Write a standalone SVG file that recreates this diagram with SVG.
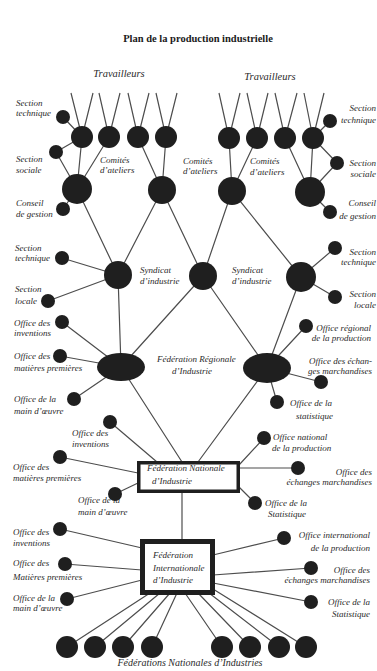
<svg xmlns="http://www.w3.org/2000/svg" width="377" height="671" viewBox="0 0 377 671">
<style>
.n{fill:#1f1f1f}
.e{stroke:#4d4d4d;stroke-width:1.2;fill:none}
.l{font-family:"Liberation Serif",serif;font-style:italic;font-size:9px;fill:#2a2a2a}
.r{text-anchor:end}
.m{text-anchor:middle}
.box{fill:#fff;stroke:#1f1f1f}
</style>
<rect width="377" height="671" fill="#fff"/>
<text x="198" y="42" text-anchor="middle" style="font-family:'Liberation Serif',serif;font-weight:bold;font-size:10.5px;fill:#1a1a1a">Plan de la production industrielle</text>
<text class="l m" x="119" y="77" style="font-size:10.5px">Travailleurs</text>
<text class="l m" x="270" y="80" style="font-size:10.5px">Travailleurs</text>
<g id="connectors" class="e">
<path d="M71 93L82 137M93 93L82 137M99 93L109 137M120 93L109 137M128 93L138 137M149 93L138 137M156 93L166 137M177 93L166 137"/>
<path d="M219 93L229 138M240 93L229 138M247 93L257 138M268 93L257 138M275 93L285 138M297 93L285 138M304 93L313 138M324 93L313 138"/>
<path d="M82 137L77 189M109 137L77 189M138 137L162 190M166 137L162 190M229 138L232 191M257 138L232 191M285 138L310 192M313 138L310 192"/>
<path d="M63 117L82 137M56 152L82 137M56 152L77 189M63 209L77 189"/>
<path d="M330 121L313 138M337 163L313 138M337 163L310 192M330 212L310 192"/>
<path d="M77 189L118 275M162 190L118 275M162 190L203 276M232 191L203 276M232 191L301 277"/>
<path d="M62 258L118 275M48 301L118 275M335 248L301 277M335 297L301 277"/>
<path d="M118 275L121 367M203 276L121 367M203 276L267 368M301 277L267 368"/>
<path d="M62 322L121 367M60 356L121 367M74 399L121 367M306 326L267 368M321 382L267 368M277 402L267 368"/>
<path d="M121 367L182 462M267 368L198 462"/>
<path d="M110 422L157 462M60 457L138 473M115 494L138 483M264 438L239 465M298 468L239 468M255 503L239 487"/>
<path d="M182 492L182 541"/>
<path d="M60 529L142 548M65 564L142 570M67 599L142 580M284 538L213 555M311 568L213 575M311 602L213 583"/>
<path d="M67 647L150 593M95 647L160 593M123 647L170 593M152 647L177 593M222 647L185 593M250 647L198 593M279 647L209 593M306 647L213 589"/>
</g>
<g id="workers-left"><circle class="n" cx="82" cy="137" r="11"/><circle class="n" cx="109" cy="137" r="11"/><circle class="n" cx="138" cy="137" r="11"/><circle class="n" cx="166" cy="137" r="11"/></g>
<g id="workers-right"><circle class="n" cx="229" cy="138" r="11"/><circle class="n" cx="257" cy="138" r="11"/><circle class="n" cx="285" cy="138" r="11"/><circle class="n" cx="313" cy="138" r="11"/></g>
<g id="comite-1"><circle class="n" cx="77" cy="189" r="15"/></g>
<g id="comite-2"><circle class="n" cx="162" cy="190" r="14"/></g>
<g id="comite-3"><circle class="n" cx="232" cy="191" r="14"/></g>
<g id="comite-4"><circle class="n" cx="310" cy="192" r="15"/></g>
<g id="comites-labels">
<text class="l" x="100" y="163">Comités</text><text class="l" x="100" y="173">d’ateliers</text>
<text class="l" x="183" y="164">Comités</text><text class="l" x="183" y="174">d’ateliers</text>
<text class="l" x="250" y="164">Comités</text><text class="l" x="250" y="175">d’ateliers</text>
</g>
<g id="sections-top-left">
<circle class="n" cx="63" cy="117" r="7"/><text class="l" x="16" y="106">Section</text><text class="l" x="16" y="116">technique</text>
<circle class="n" cx="56" cy="152" r="7"/><text class="l" x="16" y="162">Section</text><text class="l" x="16" y="173">sociale</text>
<circle class="n" cx="63" cy="209" r="7"/><text class="l" x="16" y="206">Conseil</text><text class="l" x="16" y="217">de gestion</text>
</g>
<g id="sections-top-right">
<circle class="n" cx="330" cy="121" r="7"/><text class="l r" x="376" y="111">Section</text><text class="l r" x="376" y="123">technique</text>
<circle class="n" cx="337" cy="163" r="7"/><text class="l r" x="376" y="166">Section</text><text class="l r" x="376" y="177">sociale</text>
<circle class="n" cx="330" cy="212" r="7"/><text class="l r" x="376" y="206">Conseil</text><text class="l r" x="376" y="219">de gestion</text>
</g>
<g id="syndicat-1"><circle class="n" cx="118" cy="275" r="14"/><text class="l" x="140" y="273">Syndicat</text><text class="l" x="140" y="284">d’industrie</text></g>
<g id="syndicat-2"><circle class="n" cx="203" cy="276" r="14"/><text class="l" x="232" y="273">Syndicat</text><text class="l" x="232" y="284">d’industrie</text></g>
<g id="syndicat-3"><circle class="n" cx="301" cy="277" r="15"/></g>
<g id="sections-syndicat-left">
<circle class="n" cx="62" cy="258" r="7"/><text class="l" x="15" y="251">Section</text><text class="l" x="15" y="261">technique</text>
<circle class="n" cx="48" cy="301" r="7"/><text class="l" x="15" y="292">Section</text><text class="l" x="15" y="304">locale</text>
</g>
<g id="sections-syndicat-right">
<circle class="n" cx="335" cy="248" r="7"/><text class="l r" x="376" y="255">Section</text><text class="l r" x="376" y="265">technique</text>
<circle class="n" cx="335" cy="297" r="7"/><text class="l r" x="376" y="297">Section</text><text class="l r" x="376" y="308">locale</text>
</g>
<g id="federation-regionale-1"><ellipse class="n" cx="121" cy="367" rx="24" ry="14"/></g>
<g id="federation-regionale-2"><ellipse class="n" cx="267" cy="368" rx="24" ry="15"/></g>
<g id="federation-regionale-label"><text class="l" x="157" y="362">Fédération Régionale</text><text class="l" x="172" y="374">d’Industrie</text></g>
<g id="offices-regional-left">
<circle class="n" cx="62" cy="322" r="7"/><text class="l" x="14" y="326">Office des</text><text class="l" x="14" y="336">inventions</text>
<circle class="n" cx="60" cy="356" r="7"/><text class="l" x="14" y="359">Office des</text><text class="l" x="14" y="371">matières premières</text>
<circle class="n" cx="74" cy="399" r="7"/><text class="l" x="14" y="402">Office de la</text><text class="l" x="14" y="414">main d’œuvre</text>
</g>
<g id="offices-regional-right">
<circle class="n" cx="306" cy="326" r="7"/><text class="l r" x="371" y="331">Office régional</text><text class="l r" x="371" y="341">de la production</text>
<text class="l r" x="372" y="364">Office des échan-</text><text class="l r" x="372" y="374">ges marchandises</text><circle class="n" cx="321" cy="382" r="7"/>
<circle class="n" cx="277" cy="402" r="7"/><text class="l" x="290" y="406">Office de la</text><text class="l" x="296" y="419">statistique</text>
</g>
<g id="federation-nationale"><rect class="box" x="138.75" y="462.75" width="99.5" height="28.5" stroke-width="3.5"/><text class="l" x="147" y="471">Fédération Nationale</text><text class="l" x="152" y="484">d’Industrie</text></g>
<g id="offices-national-left">
<text class="l" x="72" y="436">Office des</text><text class="l" x="72" y="447">inventions</text><circle class="n" cx="110" cy="422" r="7"/>
<circle class="n" cx="60" cy="457" r="7"/><text class="l" x="13" y="470">Office des</text><text class="l" x="13" y="481">matières premières</text>
<text class="l" x="78" y="503">Office de la</text><text class="l" x="78" y="515">main d’œuvre</text><circle class="n" cx="115" cy="494" r="7"/>
</g>
<g id="offices-national-right">
<circle class="n" cx="264" cy="438" r="7"/><text class="l" x="273" y="440">Office national</text><text class="l" x="272" y="451">de la production</text>
<circle class="n" cx="298" cy="468" r="7"/><text class="l r" x="372" y="475">Office des</text><text class="l r" x="372" y="485">échanges marchandises</text>
<circle class="n" cx="255" cy="503" r="7"/><text class="l" x="265" y="506">Office de la</text><text class="l" x="268" y="517">Statistique</text>
</g>
<g id="federation-internationale"><rect class="box" x="142.5" y="541.5" width="70" height="51" stroke-width="5"/><text class="l" x="153" y="558">Fédération</text><text class="l" x="153" y="571">Internationale</text><text class="l" x="153" y="583">d’Industrie</text></g>
<g id="offices-international-left">
<circle class="n" cx="60" cy="529" r="7"/><text class="l" x="13" y="535">Office des</text><text class="l" x="13" y="546">inventions</text>
<circle class="n" cx="65" cy="564" r="7"/><text class="l" x="13" y="566">Office des</text><text class="l" x="13" y="580">Matières premières</text>
<circle class="n" cx="67" cy="599" r="7"/><text class="l" x="13" y="601">Office de la</text><text class="l" x="13" y="611">main d’œuvre</text>
</g>
<g id="offices-international-right">
<circle class="n" cx="284" cy="538" r="7"/><text class="l r" x="370" y="538">Office international</text><text class="l r" x="370" y="551">de la production</text>
<circle class="n" cx="311" cy="568" r="7"/><text class="l r" x="370" y="573">Office des</text><text class="l r" x="370" y="583">échanges marchandises</text>
<circle class="n" cx="311" cy="602" r="7"/><text class="l r" x="370" y="605">Office de la</text><text class="l r" x="370" y="617">Statistique</text>
</g>
<g id="federations-nationales">
<circle class="n" cx="67" cy="647" r="11"/><circle class="n" cx="95" cy="647" r="11"/><circle class="n" cx="123" cy="647" r="11"/><circle class="n" cx="152" cy="647" r="11"/>
<circle class="n" cx="222" cy="647" r="11"/><circle class="n" cx="250" cy="647" r="11"/><circle class="n" cx="279" cy="647" r="11"/><circle class="n" cx="306" cy="647" r="11"/>
<text class="l m" x="190" y="666" style="font-size:10px">Fédérations Nationales d’Industries</text>
</g>
</svg>
